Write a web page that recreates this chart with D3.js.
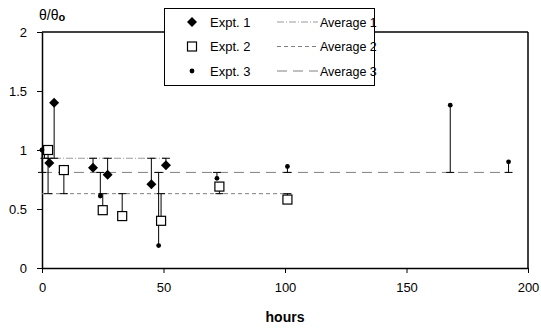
<!DOCTYPE html>
<html>
<head>
<meta charset="utf-8">
<script src="https://cdn.jsdelivr.net/npm/d3@7"></script>
<style>
  body { margin: 0; background: #fff; }
  svg { display: block; font-family: "Liberation Sans", Arial, sans-serif; }
</style>
</head>
<body>
<svg id="chart" width="541" height="330"></svg>
<script>
// ---- data ----
var expt1Hours = [1, 3, 5, 21, 27, 45, 51];
var expt1Values = [1.0, 0.89, 1.40, 0.85, 0.79, 0.71, 0.87];
var expt2Hours = [2.5, 9, 25, 33, 49, 73, 101];
var expt2Values = [1.0, 0.83, 0.49, 0.44, 0.40, 0.69, 0.58];
var expt3Hours = [0, 24, 48, 72, 101, 168, 192];
var expt3Values = [1.0, 0.61, 0.19, 0.76, 0.86, 1.38, 0.90];
var averages = [0.93, 0.63, 0.81];
var xTicks = [0, 50, 100, 150, 200];
var yTicks = [0, 0.5, 1, 1.5, 2];
var seriesNames = ["Expt. 1", "Expt. 2", "Expt. 3"];
var averageNames = ["Average 1", "Average 2", "Average 3"];

var svg = d3.select("#chart");

var margin = { left: 42, right: 528, top: 32, bottom: 268 };
var x = d3.scaleLinear().domain([0, 200]).range([margin.left, margin.right]);
var y = d3.scaleLinear().domain([0, 2]).range([margin.bottom, margin.top]);

var series = [expt1Hours, expt2Hours, expt3Hours].map(function (hrs, i) {
    var vals = [expt1Values, expt2Values, expt3Values][i];
    return {
        id: i,
        avg: averages[i],
        points: hrs.map(function (h, j) { return { h: h, v: vals[j] }; })
    };
});

var dashes = ["7,2,1,2", "4,3", "10,6"];
var avgColors = ["#9a9a9a", "#808080", "#808080"];

//////////////////////
// Frame
//////////////////////
svg.append("line")
    .attr("x1", margin.left).attr("x2", margin.right)
    .attr("y1", margin.top).attr("y2", margin.top)
    .attr("stroke", "#000").attr("stroke-width", 1.3);
svg.append("line")
    .attr("x1", margin.right).attr("x2", margin.right)
    .attr("y1", margin.top).attr("y2", margin.bottom)
    .attr("stroke", "#000").attr("stroke-width", 1.5);

// axes
var yAxis = svg.append("g")
    .attr("transform", "translate(" + margin.left + ",0)")
    .call(d3.axisLeft(y).tickValues(yTicks).tickSize(5).tickSizeOuter(0).tickPadding(10)
        .tickFormat(function (d) { return String(d); }));
var xAxis = svg.append("g")
    .attr("transform", "translate(0," + margin.bottom + ")")
    .call(d3.axisBottom(x).tickValues(xTicks).tickSize(5).tickSizeOuter(0).tickPadding(10)
        .tickFormat(function (d) { return String(d); }));

[yAxis, xAxis].forEach(function (ax) {
    ax.select(".domain").attr("stroke-width", 1.5);
    ax.selectAll("text").attr("font-size", 13).attr("fill", "#000")
        .attr("font-family", "'Liberation Sans', Arial, sans-serif");
});

// axis titles
var yTitle = svg.append("text")
    .attr("x", 39).attr("y", 20)
    .attr("font-size", 14);
yTitle.append("tspan").text("θ/θ");
yTitle.append("tspan").attr("dy", 1).attr("font-size", 11).attr("font-weight", "bold").text("o");

svg.append("text")
    .attr("x", x(100)).attr("y", 322)
    .attr("text-anchor", "middle")
    .attr("font-size", 14).attr("font-weight", "bold")
    .text("hours");

//////////////////////
// Averages
//////////////////////
svg.selectAll(".avg")
    .data(series)
    .enter()
    .append("line")
        .attr("class", "avg")
        .attr("x1", x(0))
        .attr("x2", function (d) { return x(d3.max(d.points, function (p) { return p.h; })); })
        .attr("y1", function (d) { return y(d.avg); })
        .attr("y2", function (d) { return y(d.avg); })
        .attr("stroke", function (d) { return avgColors[d.id]; })
        .attr("stroke-width", 1)
        .attr("stroke-dasharray", function (d) { return dashes[d.id]; });

//////////////////////
// Error bars: from each point to its average, capped at the average
//////////////////////
series.forEach(function (s) {
    var g = svg.append("g").attr("class", "errbars");
    g.selectAll("line.bar")
        .data(s.points)
        .enter()
        .append("line")
            .attr("class", "bar")
            .attr("x1", function (d) { return x(d.h); })
            .attr("x2", function (d) { return x(d.h); })
            .attr("y1", function (d) { return y(d.v); })
            .attr("y2", y(s.avg))
            .attr("stroke", "#000").attr("stroke-width", 1);
    g.selectAll("line.cap")
        .data(s.points)
        .enter()
        .append("line")
            .attr("class", "cap")
            .attr("x1", function (d) { return x(d.h) - 4; })
            .attr("x2", function (d) { return x(d.h) + 4; })
            .attr("y1", y(s.avg))
            .attr("y2", y(s.avg))
            .attr("stroke", "#000").attr("stroke-width", 1);
});

//////////////////////
// Markers
//////////////////////
function drawMarker(sel, id) {
    if (id === 0) {
        sel.append("path")
            .attr("d", "M0,-5L5,0L0,5L-5,0Z")
            .attr("fill", "#000");
    } else if (id === 1) {
        sel.append("rect")
            .attr("x", -4.5).attr("y", -4.5)
            .attr("width", 9).attr("height", 9)
            .attr("fill", "#fff").attr("stroke", "#000").attr("stroke-width", 1.2);
    } else {
        sel.append("circle")
            .attr("r", 2.4)
            .attr("fill", "#000");
    }
}

series.forEach(function (s) {
    svg.append("g").attr("class", "markers")
        .selectAll("g")
        .data(s.points)
        .enter()
        .append("g")
            .attr("transform", function (d) { return "translate(" + x(d.h) + "," + y(d.v) + ")"; })
            .each(function () { drawMarker(d3.select(this), s.id); });
});

//////////////////////
// Legend
//////////////////////
var legend = svg.append("g").attr("class", "legend");
legend.append("rect")
    .attr("x", 164.5).attr("y", 8.5)
    .attr("width", 210).attr("height", 77)
    .attr("fill", "#fff").attr("stroke", "#000").attr("stroke-width", 1);

var rows = legend.selectAll("g.row")
    .data(series)
    .enter()
    .append("g")
        .attr("class", "row")
        .attr("transform", function (d, i) { return "translate(0," + (22 + i * 24.5) + ")"; });

rows.append("g")
    .attr("transform", "translate(192,0)")
    .each(function (d) { drawMarker(d3.select(this), d.id); });

rows.append("text")
    .attr("x", 210).attr("y", 4.5)
    .attr("font-size", 13)
    .text(function (d) { return seriesNames[d.id]; });

rows.append("line")
    .attr("x1", 277).attr("x2", 318)
    .attr("y1", 0).attr("y2", 0)
    .attr("stroke", function (d) { return avgColors[d.id]; })
    .attr("stroke-dasharray", function (d) { return dashes[d.id]; });

rows.append("text")
    .attr("x", 320).attr("y", 4.5)
    .attr("font-size", 12.5)
    .text(function (d) { return averageNames[d.id]; });
</script>
</body>
</html>
